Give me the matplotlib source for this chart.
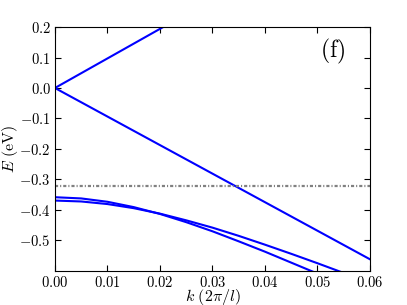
import numpy as np
import matplotlib
matplotlib.use('Agg')
from matplotlib import pyplot as plt
from matplotlib.ticker import FuncFormatter

plt.rcParams['mathtext.fontset'] = 'cm'
plt.rcParams['font.family'] = 'DejaVu Serif'

# straight branches through the origin
k_up = [0.0, 0.06]
E_up = [0.0, 0.583]
k_down = [0.0, 0.06]
E_down = [0.0, -0.563]

# dash-dot level
E_level = -0.322

# two curved bands
k_band = [0.0, 0.005, 0.01, 0.015, 0.02, 0.025, 0.03, 0.035, 0.04, 0.045, 0.05, 0.055]
E_band_a = [-0.370, -0.373, -0.3815, -0.395, -0.413, -0.435, -0.459, -0.486, -0.515, -0.545, -0.576, -0.608]
E_band_b = [-0.359, -0.363, -0.374, -0.3915, -0.414, -0.441, -0.471, -0.504, -0.538, -0.574, -0.610, -0.650]

x_ticks = [0.00, 0.01, 0.02, 0.03, 0.04, 0.05, 0.06]
y_ticks = [-0.5, -0.4, -0.3, -0.2, -0.1, 0.0, 0.1, 0.2]

fig = plt.figure(figsize=(4.07, 3.05), dpi=100)
ax = fig.add_axes([0.135, 0.113, 0.774, 0.798])

ax.plot(k_up, E_up, color='b', linewidth=1.5)
ax.plot(k_down, E_down, color='b', linewidth=1.5)
ax.plot(k_band, E_band_a, color='b', linewidth=1.5)
ax.plot(k_band, E_band_b, color='b', linewidth=1.5)
ax.axhline(E_level, color='0.5', linewidth=1.6, dashes=(1.4, 0.9, 0.5, 0.9))

ax.set_xlim(0, 0.06)
ax.set_ylim(-0.6, 0.2)
ax.set_xticks(x_ticks)
ax.set_yticks(y_ticks)
ax.xaxis.set_major_formatter(FuncFormatter(lambda v, p: r'$%.2f$' % v))
ax.yaxis.set_major_formatter(FuncFormatter(lambda v, p: r'$%.1f$' % v))
ax.tick_params(direction='in', top=True, right=True, length=4, labelsize=10.5, pad=3)

ax.set_xlabel(r'$k\ (2\pi/l)$', fontsize=11.5, va='center')
ax.set_ylabel(r'$E\ (\mathrm{eV})$', fontsize=11.5, va='center')
ax.xaxis.set_label_coords(0.5, -0.108)
ax.yaxis.set_label_coords(-0.142, 0.5)
ax.text(0.88, 0.9, r'$\mathrm{(f)}$', transform=ax.transAxes, fontsize=17,
        ha='center', va='center')

plt.savefig('out.png', dpi=100)
